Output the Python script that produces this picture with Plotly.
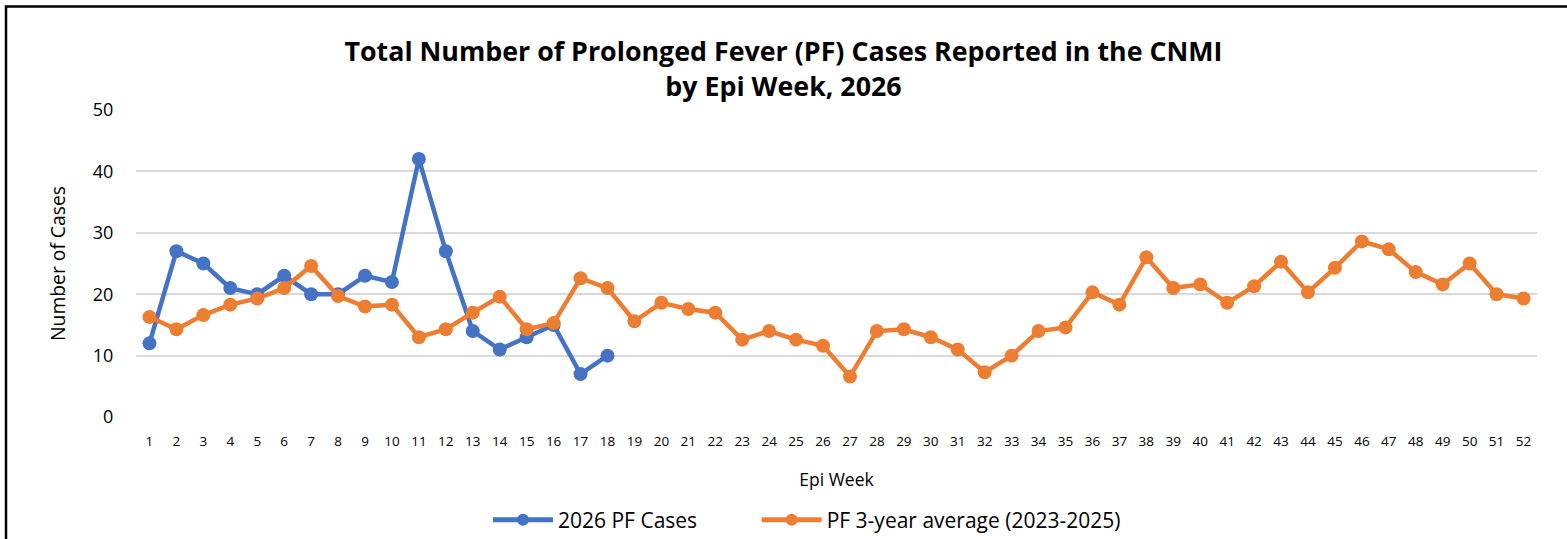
import plotly.graph_objects as go

weeks = [str(i) for i in range(1, 53)]
cases_2026 = [12, 27, 25, 21, 20, 23, 20, 20, 23, 22, 42, 27, 14, 11, 13, 15, 7, 10]
avg_3yr = [16.3, 14.3, 16.6, 18.3, 19.3, 21, 24.6, 19.7, 18, 18.3,
           13, 14.3, 17, 19.6, 14.3, 15.3, 22.6, 21, 15.6, 18.6,
           17.6, 17, 12.6, 14, 12.6, 11.6, 6.6, 14, 14.3, 13,
           11, 7.3, 10, 14, 14.6, 20.3, 18.3, 26, 21, 21.6,
           18.6, 21.3, 25.3, 20.3, 24.3, 28.6, 27.3, 23.6, 21.6, 25,
           20, 19.3]
y_ticks = [0, 10, 20, 30, 40, 50]

BLUE = "#4472C4"
ORANGE = "#ED7D31"
FONT = "Open Sans"
NBSP = "\u00a0"

fig = go.Figure()
fig.add_trace(go.Scatter(
    x=weeks[:len(cases_2026)], y=cases_2026, name="2026 PF Cases" + NBSP * 10,
    mode="lines+markers", line=dict(color=BLUE, width=4.5),
    marker=dict(color=BLUE, size=14)))
fig.add_trace(go.Scatter(
    x=weeks, y=avg_3yr, name="PF 3-year average (2023-2025)",
    mode="lines+markers", line=dict(color=ORANGE, width=4.5),
    marker=dict(color=ORANGE, size=14)))

W, H = 1567, 539
# plot area in target-picture pixels
PL, PR, PT, PB = 136, 1537, 109, 418
L, T = PL, PT
R = W - PR
B = H - PB
pw, ph = W - L - R, H - T - B

def px_x(p):
    return (p - L) / pw

def px_y(p):
    return (H - B - p) / ph

def cx(p):
    return p / W

def cy(p):
    return 1 - p / H

fig.add_shape(type="rect", xref="paper", yref="paper",
              x0=px_x(6), x1=px_x(1700), y0=px_y(700), y1=px_y(6.5),
              line=dict(color="black", width=2.5), fillcolor="rgba(0,0,0,0)",
              layer="below")

fig.update_layout(
    width=W, height=H,
    margin=dict(l=L, r=R, t=T, b=B, autoexpand=False),
    paper_bgcolor="white", plot_bgcolor="white",
    font=dict(family=FONT, color="black"),
    title=dict(
        text="Total Number of Prolonged Fever (PF) Cases Reported in the CNMI<br>by Epi Week, 2026",
        x=cx(783.5), xanchor="center", xref="container", yref="container", y=cy(61), yanchor="middle",
        font=dict(family=FONT, size=26.8, color="black", weight="bold")),
    xaxis=dict(
        type="category", categoryorder="array", categoryarray=weeks,
        range=[-0.5, 51.5], showgrid=False, zeroline=False, showline=False, automargin=False,
        tickfont=dict(size=13.5), ticks="outside", ticklen=11, tickcolor="rgba(0,0,0,0)",
        title=dict(text="Epi Week", font=dict(size=17.5), standoff=24),
    ),
    yaxis=dict(
        range=[-0.15, 50.15], tickvals=y_ticks, showgrid=True, gridcolor="#D9D9D9", gridwidth=1.8,
        zeroline=False, showline=False, automargin=False, tickfont=dict(size=18),
        ticks="outside", ticklen=18, tickcolor="rgba(0,0,0,0)",
        title=dict(text="Number of Cases", font=dict(size=19.3), standoff=22),
    ),
    legend=dict(orientation="h", xref="container", yref="container",
                x=cx(488), xanchor="left", y=cy(520), yanchor="middle",
                font=dict(size=21), itemwidth=60, traceorder="normal",
                itemsizing="constant"),
    showlegend=True,
)

fig.write_html("out.html", config={"displayModeBar": False},
               post_script="document.body.style.margin='0';document.body.style.overflow='hidden';")
